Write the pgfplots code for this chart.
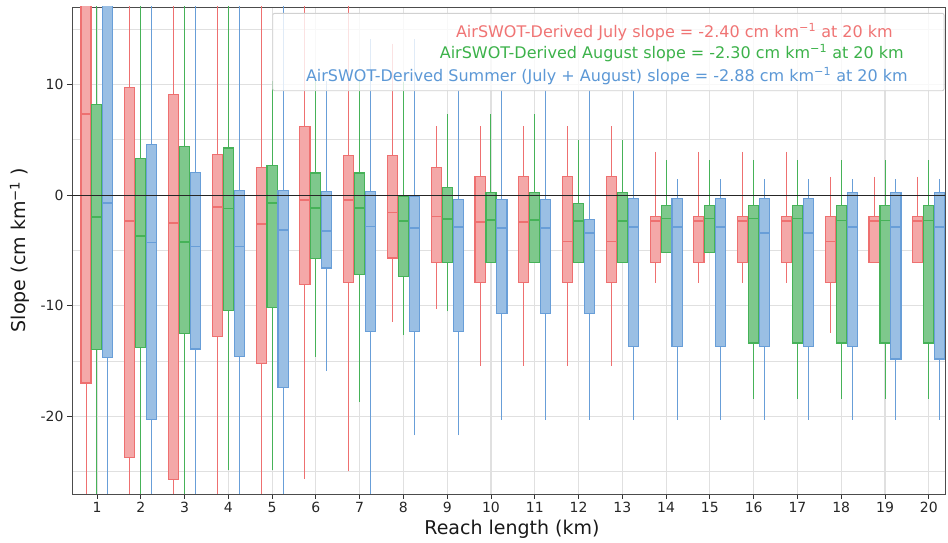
\documentclass[border=0pt]{standalone}
\usepackage{fontspec}
\setmainfont{DejaVu Sans}
\usepackage{pgfplots}
\pgfplotsset{compat=1.18}
\usepgfplotslibrary{statistics}

\definecolor{redE}{RGB}{238,112,112}
\definecolor{redF}{RGB}{244,168,168}
\definecolor{grnE}{RGB}{70,178,88}
\definecolor{grnF}{RGB}{126,200,140}
\definecolor{bluE}{RGB}{104,158,216}
\definecolor{bluF}{RGB}{154,191,228}
\definecolor{redT}{RGB}{240,116,116}
\definecolor{grnT}{RGB}{60,178,74}
\definecolor{bluT}{RGB}{92,152,214}
\definecolor{gridc}{RGB}{224,224,224}

% \bp{style}{pos}{lower whisker}{q1}{median}{q3}{upper whisker}
\newcommand{\bp}[7]{\addplot[#1, boxplot prepared={draw position=#2,
  lower whisker=#3, lower quartile=#4, median=#5,
  upper quartile=#6, upper whisker=#7}] coordinates {};}

\begin{document}
\begin{tikzpicture}
\useasboundingbox (-72pt,-49pt) rectangle (876pt,494pt);
\begin{axis}[
  at={(0,0)}, anchor=south west,
  scale only axis, width=873pt, height=487pt,
  xmin=0.43, xmax=20.37, ymin=-27, ymax=17,
  xtick={1,...,20},
  ytick={-20,-10,0,10},
  minor ytick={-25,-15,-5,5,15},
  xmajorgrids, ymajorgrids, yminorgrids,
  major grid style={gridc, line width=1.1pt},
  minor grid style={gridc, line width=1.1pt},
  axis line style={black!70, line width=0.9pt},
  tick style={black!80, line width=0.8pt},
  major tick length=5pt, minor tick length=0pt,
  tick align=outside, tick pos=left,
  /pgf/number format/assume math mode=true,
  ticklabel style={font=\fontsize{14}{16}\selectfont, text=black!85},
  xlabel={Reach length (km)},
  ylabel={Slope (cm km\textsuperscript{−1} )},
  label style={font=\fontsize{19}{22}\selectfont, text=black!90},
  xlabel style={at={(axis description cs:0.504,0)}, anchor=base, yshift=-41pt},
  ylabel style={at={(axis description cs:-0.0596,0.501)}, anchor=center},
  redbox/.style={draw=redE, fill=redF, line width=1.1pt},
  grnbox/.style={draw=grnE, fill=grnF, line width=1.1pt},
  blubox/.style={draw=bluE, fill=bluF, line width=1.1pt},
  boxplot/draw direction=y,
  boxplot/box extend=0.23,
  boxplot/whisker extend=0,
  boxplot/every whisker/.style={line width=1pt},
  boxplot/every median/.style={line width=1.7pt},
]
% July (red)
\bp{redbox}{0.75}{-40}{-16.97}{7.36}{25}{40}
\bp{redbox}{1.75}{-40}{-23.7}{-2.34}{9.76}{40}
\bp{redbox}{2.75}{-40}{-25.7}{-2.49}{9.07}{40}
\bp{redbox}{3.75}{-40}{-12.76}{-1.08}{3.66}{40}
\bp{redbox}{4.75}{-40}{-15.2}{-2.58}{2.49}{40}
\bp{redbox}{5.75}{-25.6}{-8.05}{-0.45}{6.23}{40}
\bp{redbox}{6.75}{-24.9}{-7.93}{-0.42}{3.6}{40}
\bp{redbox}{7.75}{-11.45}{-5.68}{-1.58}{3.6}{13.7}
\bp{redbox}{8.75}{-10.3}{-6.07}{-1.92}{2.46}{6.23}
\bp{redbox}{9.75}{-15.45}{-7.93}{-2.4}{1.71}{6.23}
\bp{redbox}{10.75}{-15.45}{-7.93}{-2.4}{1.71}{6.23}
\bp{redbox}{11.75}{-15.45}{-7.93}{-4.18}{1.71}{6.23}
\bp{redbox}{12.75}{-15.45}{-7.93}{-4.18}{1.71}{6.23}
\bp{redbox}{13.75}{-7.92}{-6.08}{-2.36}{-1.9}{3.93}
\bp{redbox}{14.75}{-7.92}{-6.08}{-2.36}{-1.9}{3.93}
\bp{redbox}{15.75}{-7.92}{-6.08}{-2.36}{-1.9}{3.93}
\bp{redbox}{16.75}{-7.92}{-6.08}{-2.36}{-1.9}{3.93}
\bp{redbox}{17.75}{-12.43}{-7.93}{-4.18}{-1.9}{1.68}
\bp{redbox}{18.75}{-6.08}{-6.08}{-2.36}{-1.9}{1.68}
\bp{redbox}{19.75}{-6.08}{-6.08}{-2.36}{-1.9}{1.68}
% August (green)
\bp{grnbox}{1}{-40}{-13.96}{-2.0}{8.17}{40}
\bp{grnbox}{2}{-40}{-13.8}{-3.69}{3.3}{40}
\bp{grnbox}{3}{-40}{-12.5}{-4.23}{4.38}{40}
\bp{grnbox}{4}{-24.86}{-10.45}{-1.2}{4.26}{40}
\bp{grnbox}{5}{-24.86}{-10.15}{-0.72}{2.67}{10.3}
\bp{grnbox}{6}{-14.6}{-5.74}{-1.14}{2.0}{10.3}
\bp{grnbox}{7}{-18.7}{-7.2}{-1.14}{2.0}{10.3}
\bp{grnbox}{8}{-12.67}{-7.36}{-2.34}{-0.1}{10.2}
\bp{grnbox}{9}{-10.5}{-6.1}{-2.13}{0.69}{7.3}
\bp{grnbox}{10}{-6.1}{-6.1}{-2.22}{0.24}{7.3}
\bp{grnbox}{11}{-6.1}{-6.1}{-2.22}{0.24}{7.3}
\bp{grnbox}{12}{-6.1}{-6.1}{-2.34}{-0.78}{4.98}
\bp{grnbox}{13}{-6.1}{-6.1}{-2.34}{0.24}{4.98}
\bp{grnbox}{14}{-5.2}{-5.2}{-2.1}{-0.93}{3.15}
\bp{grnbox}{15}{-5.2}{-5.2}{-2.1}{-0.93}{3.15}
\bp{grnbox}{16}{-18.4}{-13.36}{-2.1}{-0.93}{3.15}
\bp{grnbox}{17}{-18.4}{-13.36}{-2.1}{-0.93}{3.15}
\bp{grnbox}{18}{-18.4}{-13.36}{-2.3}{-0.93}{3.15}
\bp{grnbox}{19}{-18.4}{-13.36}{-2.3}{-0.93}{3.15}
\bp{grnbox}{20}{-18.4}{-13.36}{-2.3}{-0.93}{3.15}
% Summer (blue)
\bp{blubox}{1.25}{-40}{-14.65}{-0.69}{25}{40}
\bp{blubox}{2.25}{-40}{-20.3}{-4.29}{4.56}{40}
\bp{blubox}{3.25}{-40}{-13.9}{-4.65}{2.04}{40}
\bp{blubox}{4.25}{-40}{-14.6}{-4.65}{0.45}{40}
\bp{blubox}{5.25}{-40}{-17.36}{-3.12}{0.45}{40}
\bp{blubox}{6.25}{-15.9}{-6.58}{-3.21}{0.36}{10.3}
\bp{blubox}{7.25}{-40}{-12.34}{-2.82}{0.36}{14.1}
\bp{blubox}{8.25}{-21.7}{-12.34}{-2.94}{-0.09}{14.1}
\bp{blubox}{9.25}{-21.7}{-12.34}{-2.88}{-0.36}{9.46}
\bp{blubox}{10.25}{-20.3}{-10.69}{-2.94}{-0.36}{9.46}
\bp{blubox}{11.25}{-20.3}{-10.69}{-2.94}{-0.36}{9.46}
\bp{blubox}{12.25}{-20.3}{-10.69}{-3.42}{-2.22}{9.46}
\bp{blubox}{13.25}{-20.3}{-13.66}{-2.9}{-0.3}{9.46}
\bp{blubox}{14.25}{-20.3}{-13.66}{-2.9}{-0.3}{1.44}
\bp{blubox}{15.25}{-20.3}{-13.66}{-2.9}{-0.3}{1.44}
\bp{blubox}{16.25}{-20.3}{-13.66}{-3.42}{-0.3}{1.44}
\bp{blubox}{17.25}{-20.3}{-13.66}{-3.42}{-0.3}{1.44}
\bp{blubox}{18.25}{-20.3}{-13.66}{-2.9}{0.27}{1.44}
\bp{blubox}{19.25}{-20.3}{-14.8}{-2.9}{0.27}{1.44}
\bp{blubox}{20.25}{-20.3}{-14.8}{-2.9}{0.27}{1.44}
% zero line
\addplot[black!85, line width=1.3pt] coordinates {(0.43,0) (20.37,0)};
% slope annotation box
\draw[draw=black!18, line width=0.9pt, fill=white, fill opacity=0.8, rounded corners=2pt]
  (rel axis cs:0.2299,0.828) rectangle (rel axis cs:0.999,0.987);
\node[anchor=base east, inner sep=0, text=redT, font=\fontsize{16}{19}\selectfont]
  at (rel axis cs:0.9404,0.9378) {AirSWOT-Derived July slope = -2.40 cm km\textsuperscript{−1} at 20 km};
\node[anchor=base east, inner sep=0, text=grnT, font=\fontsize{16}{19}\selectfont]
  at (rel axis cs:0.953,0.8936) {AirSWOT-Derived August slope = -2.30 cm km\textsuperscript{−1} at 20 km};
\node[anchor=base east, inner sep=0, text=bluT, font=\fontsize{16}{19}\selectfont]
  at (rel axis cs:0.9576,0.8466) {AirSWOT-Derived Summer (July + August) slope = -2.88 cm km\textsuperscript{−1} at 20 km};
\end{axis}
\end{tikzpicture}
\end{document}
